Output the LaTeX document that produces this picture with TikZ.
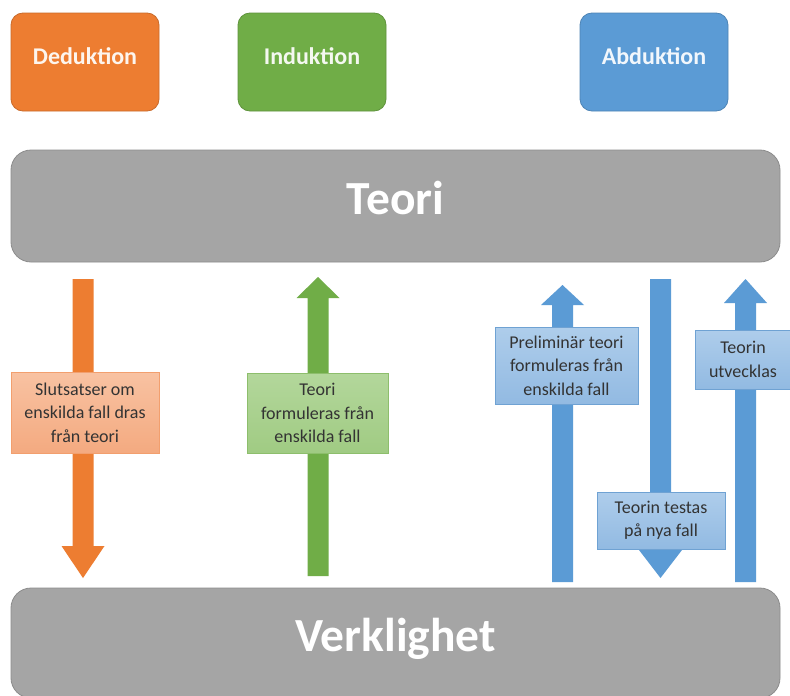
\documentclass[tikz,border=0pt]{standalone}
\usepackage{fontspec}
\setmainfont{Carlito}
\begin{document}
\definecolor{dedorange}{HTML}{ED7D31}
\definecolor{indgreen}{HTML}{70AD47}
\definecolor{abdblue}{HTML}{5B9BD5}
\definecolor{basegray}{HTML}{A5A5A5}
\definecolor{labtext}{HTML}{333333}
\definecolor{dedtop}{HTML}{F8C2A2}
\definecolor{dedbot}{HTML}{F4AA80}
\definecolor{dedline}{HTML}{F29F6E}
\definecolor{indtop}{HTML}{B3D79B}
\definecolor{indbot}{HTML}{A0CB83}
\definecolor{indline}{HTML}{8DBE6C}
\definecolor{abdtop}{HTML}{AECDEB}
\definecolor{abdbot}{HTML}{92BAE2}
\definecolor{abdline}{HTML}{6FA2D3}
% block arrow: centre x, tail y, head-base y, tip y, colour
\newcommand{\fatarrow}[5]{%
  \fill[#5] ({#1-10.5},#2) -- ({#1+10.5},#2) -- ({#1+10.5},#3) -- ({#1+21.5},#3)
    -- (#1,#4) -- ({#1-21.5},#3) -- ({#1-10.5},#3) -- cycle;}
\begin{tikzpicture}[x=1pt,y=-1pt,
  method/.style={rounded corners=12pt, minimum width=148pt, minimum height=98pt,
    line width=0.8pt, inner sep=0pt},
  methodtext/.style={font=\bfseries\fontsize{24}{27}\selectfont, anchor=base},
  level/.style={rounded corners=20pt, minimum width=769pt, fill=basegray,
    draw=basegray!85!black, line width=0.8pt, inner sep=0pt},
  leveltext/.style={font=\bfseries\fontsize{47.5}{52}\selectfont, text=white, anchor=base},
  note/.style={align=center, inner sep=0pt, line width=0.7pt, text=labtext,
    font=\fontsize{18}{23.5}\selectfont},
  dednote/.style={note, top color=dedtop, bottom color=dedbot, draw=dedline},
  indnote/.style={note, top color=indtop, bottom color=indbot, draw=indline},
  abdnote/.style={note, top color=abdtop, bottom color=abdbot, draw=abdline},
]
\useasboundingbox (0,0) rectangle (790,696);
\fill[white] (0,0) rectangle (790,696);

% the two levels
\node[level, minimum height=112pt] (teori) at (395.5,206) {};
\node[leveltext] at (395.5,214) {Teori};
\node[level, minimum height=110pt] (verk) at (395.5,643) {};
\node[leveltext] at (395.5,651) {Verklighet};

% the three methods
\node[method, fill=dedorange, draw=dedorange!85!black] (ded) at (85,62) {};
\node[methodtext, text=dedorange!8!white] at (85,64) {Deduktion};
\node[method, fill=indgreen, draw=indgreen!85!black] (ind) at (312,62) {};
\node[methodtext, text=indgreen!8!white] at (312,64) {Induktion};
\node[method, fill=abdblue, draw=abdblue!85!black] (abd) at (654,62) {};
\node[methodtext, text=abdblue!8!white] at (654,64) {Abduktion};

% deduction: theory -> reality
\fatarrow{83}{279}{546}{578}{dedorange}
\node[dednote, minimum width=148pt, minimum height=81pt] (dlab) at (85,412.5)
  {Slutsatser om\\enskilda fall dras\\från teori};

% induction: reality -> theory
\fatarrow{318}{576}{298}{277}{indgreen}
\node[indnote, minimum width=141pt, minimum height=80pt] (ilab) at (317.5,413)
  {Teori\\formuleras från\\enskilda fall};

% abduction: up, down, up
\fatarrow{562.5}{582}{305}{285}{abdblue}
\fatarrow{660.5}{279}{550}{578}{abdblue}
\fatarrow{745.5}{582}{303}{279}{abdblue}
\node[abdnote, minimum width=143pt, minimum height=77pt] (alab1) at (566.5,365.5)
  {Preliminär teori\\formuleras från\\enskilda fall};
\node[abdnote, minimum width=128pt, minimum height=57pt] (alab2) at (661,520.5)
  {Teorin testas\\på nya fall};
\node[abdnote, minimum width=96pt, minimum height=59pt] (alab3) at (743,359.5)
  {Teorin\\utvecklas};
\end{tikzpicture}
\end{document}
